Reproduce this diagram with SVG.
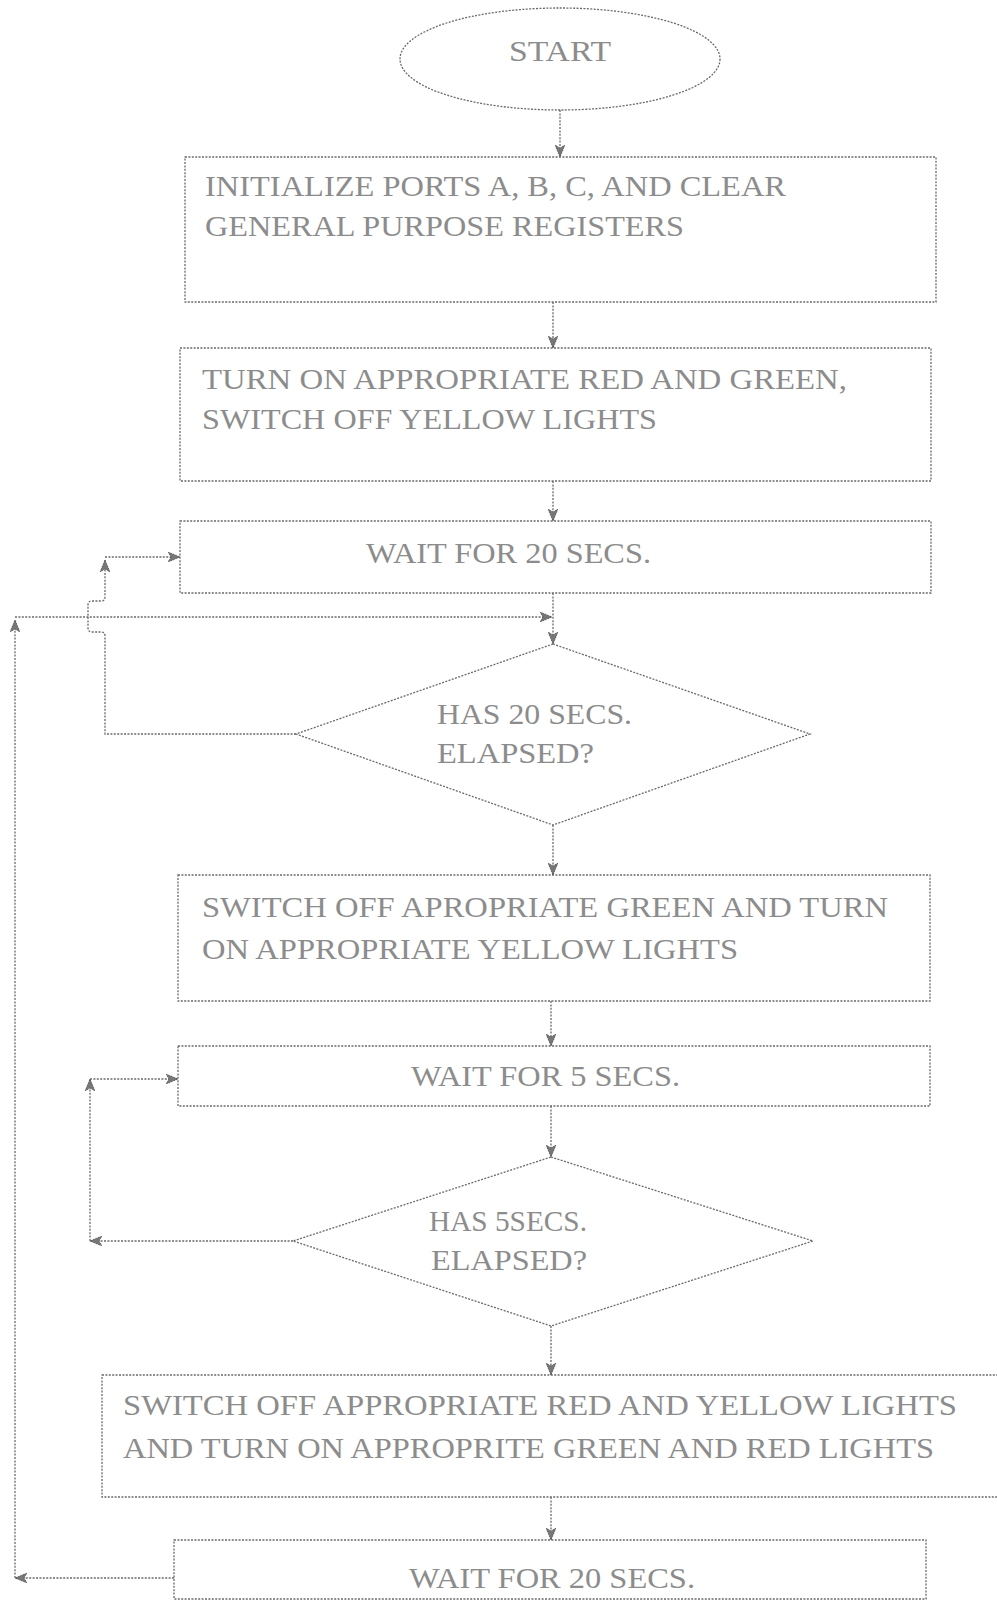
<svg xmlns="http://www.w3.org/2000/svg" width="997" height="1602" viewBox="0 0 997 1602">
<style>
.shape{fill:none;stroke:#6a6a6a;stroke-width:1.3;stroke-dasharray:2 1.4}
.conn{fill:none;stroke:#6a6a6a;stroke-width:1.3;stroke-dasharray:2 1.4}
.t{font-family:"Liberation Serif","Times New Roman",serif;font-size:30px;fill:#8c8c8c}
</style>
<defs>
<marker id="ah" viewBox="0 0 12 10" refX="12" refY="5" markerWidth="12" markerHeight="10" markerUnits="userSpaceOnUse" orient="auto">
<path d="M0,0 L12,5 L0,10 L3,5 z" fill="#777" stroke="#444" stroke-width="0.8" stroke-dasharray="1 0.8"/>
</marker>
</defs>
<rect width="997" height="1602" fill="#fff"/>

<g id="start">
<ellipse class="shape" cx="560" cy="59" rx="160" ry="51"/>
<text class="t" x="509" y="61" textLength="102" lengthAdjust="spacingAndGlyphs">START</text>
</g>

<g id="init">
<rect class="shape" x="185" y="157" width="751" height="145"/>
<text class="t" x="205" y="196" textLength="581" lengthAdjust="spacingAndGlyphs">INITIALIZE PORTS A, B, C, AND CLEAR</text>
<text class="t" x="205" y="236" textLength="479" lengthAdjust="spacingAndGlyphs">GENERAL PURPOSE REGISTERS</text>
</g>

<g id="turnon">
<rect class="shape" x="180" y="348" width="751" height="133"/>
<text class="t" x="202" y="389" textLength="645" lengthAdjust="spacingAndGlyphs">TURN ON APPROPRIATE RED AND GREEN,</text>
<text class="t" x="202" y="429" textLength="455" lengthAdjust="spacingAndGlyphs">SWITCH OFF YELLOW LIGHTS</text>
</g>

<g id="wait20a">
<rect class="shape" x="180" y="521" width="751" height="72"/>
<text class="t" x="366" y="563" textLength="285" lengthAdjust="spacingAndGlyphs">WAIT FOR 20 SECS.</text>
</g>

<g id="dec20">
<polygon class="shape" points="553,644 810,734 553,825 296,734"/>
<text class="t" x="437" y="724" textLength="195" lengthAdjust="spacingAndGlyphs">HAS 20 SECS.</text>
<text class="t" x="437" y="763" textLength="157" lengthAdjust="spacingAndGlyphs">ELAPSED?</text>
</g>

<g id="yellowon">
<rect class="shape" x="178" y="875" width="752" height="126"/>
<text class="t" x="202" y="917" textLength="686" lengthAdjust="spacingAndGlyphs">SWITCH OFF APROPRIATE GREEN AND TURN</text>
<text class="t" x="202" y="959" textLength="536" lengthAdjust="spacingAndGlyphs">ON APPROPRIATE YELLOW LIGHTS</text>
</g>

<g id="wait5">
<rect class="shape" x="178" y="1046" width="752" height="60"/>
<text class="t" x="411" y="1086" textLength="269" lengthAdjust="spacingAndGlyphs">WAIT FOR 5 SECS.</text>
</g>

<g id="dec5">
<polygon class="shape" points="551,1157 813,1241 551,1326 293,1241"/>
<text class="t" x="429" y="1231" textLength="158" lengthAdjust="spacingAndGlyphs">HAS 5SECS.</text>
<text class="t" x="431" y="1270" textLength="156" lengthAdjust="spacingAndGlyphs">ELAPSED?</text>
</g>

<g id="switch">
<rect class="shape" x="102" y="1375" width="900" height="122"/>
<text class="t" x="123" y="1415" textLength="834" lengthAdjust="spacingAndGlyphs">SWITCH OFF APPROPRIATE RED AND YELLOW LIGHTS</text>
<text class="t" x="123" y="1458" textLength="811" lengthAdjust="spacingAndGlyphs">AND TURN ON APPROPRITE GREEN AND RED LIGHTS</text>
</g>

<g id="wait20b">
<rect class="shape" x="174" y="1540" width="752" height="59"/>
<text class="t" x="409" y="1588" textLength="286" lengthAdjust="spacingAndGlyphs">WAIT FOR 20 SECS.</text>
</g>

<g id="connectors">
<path class="conn" d="M560,110 V157" marker-end="url(#ah)"/>
<path class="conn" d="M553,302 V348" marker-end="url(#ah)"/>
<path class="conn" d="M553,481 V521" marker-end="url(#ah)"/>
<path class="conn" d="M553,593 V644" marker-end="url(#ah)"/>
<path class="conn" d="M553,825 V875" marker-end="url(#ah)"/>
<path class="conn" d="M551,1001 V1046" marker-end="url(#ah)"/>
<path class="conn" d="M551,1106 V1157" marker-end="url(#ah)"/>
<path class="conn" d="M551,1326 V1375" marker-end="url(#ah)"/>
<path class="conn" d="M551,1497 V1540" marker-end="url(#ah)"/>
<path class="conn" d="M296,734 H105 V636 Q105,632 101,632 H92 Q88,632 88,628 V605 Q88,601 92,601 H101 Q105,601 105,597 V560" marker-end="url(#ah)"/>
<path class="conn" d="M105,557 H180" marker-end="url(#ah)"/>
<path class="conn" d="M293,1241 H90" marker-end="url(#ah)"/>
<path class="conn" d="M90,1241 V1079" marker-end="url(#ah)"/>
<path class="conn" d="M90,1079 H178" marker-end="url(#ah)"/>
<path class="conn" d="M174,1578 H15" marker-end="url(#ah)"/>
<path class="conn" d="M15,1578 V620" marker-end="url(#ah)"/>
<path class="conn" d="M15,617 H552" marker-end="url(#ah)"/>
</g>
</svg>
